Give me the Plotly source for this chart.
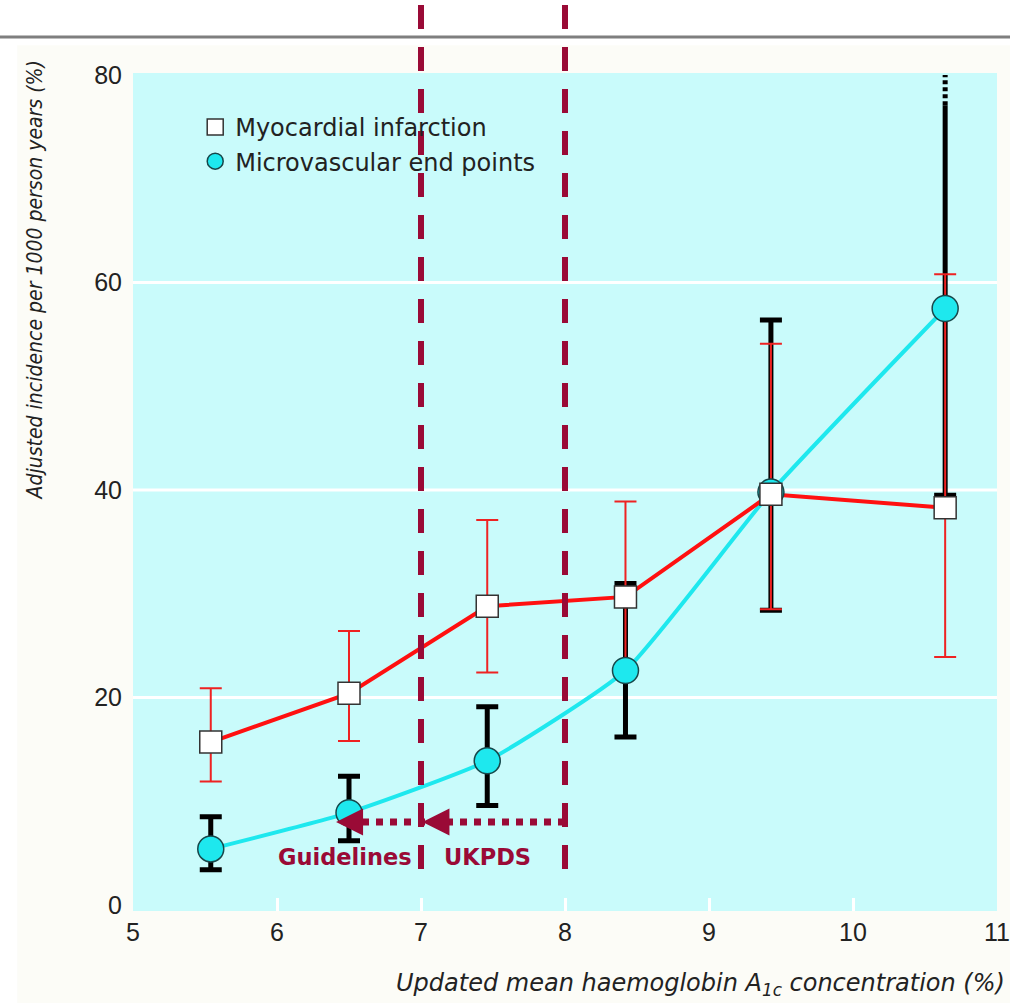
import plotly.graph_objects as go

# ---- data ----
hba1c = [5.54, 6.5, 7.46, 8.42, 9.43, 10.64]

mi_rate = [15.7, 20.4, 28.8, 29.7, 39.6, 38.3]
mi_upper = [20.9, 26.4, 37.1, 38.9, 54.1, 60.8]
mi_lower = [11.9, 15.8, 22.4, 22.4, 28.5, 23.9]

mv_rate = [5.4, 8.9, 13.9, 22.6, 39.8, 57.5]
mv_upper = [8.5, 12.4, 19.1, 31.0, 56.4, 77.1]
mv_lower = [3.4, 6.2, 9.6, 16.2, 28.4, 39.5]
mv_upper_extension = [77.1, 80.0]   # dotted continuation of last CI beyond the axis

x_ticks = [5, 6, 7, 8, 9, 10, 11]
y_ticks = [0, 20, 40, 60, 80]
grid_y = [20, 40, 60]

target_lines = [7, 8]          # guideline / UKPDS thresholds
arrow_y = 8.0
arrow_from = 8
arrow_tips = [7.01, 6.41]
label_texts = ["Guidelines", "UKPDS"]
label_x = [6.47, 7.46]
label_y = 4.6

DARK_RED = "#9a0a36"
FONT = "Liberation Sans, Arial, sans-serif"
WIDE = "DejaVu Sans, Liberation Sans, sans-serif"

n = len(hba1c)
last = n - 1

fig = go.Figure()

# black CI for microvascular (first 5 upper with caps, all lower)
fig.add_trace(go.Scatter(
    x=hba1c, y=mv_rate, mode="markers", marker=dict(size=1, opacity=0),
    error_y=dict(type="data", symmetric=False,
                 array=[(mv_upper[i] - mv_rate[i]) if i < last else 0 for i in range(n)],
                 arrayminus=[mv_rate[i] - mv_lower[i] for i in range(n)],
                 color="black", thickness=5, width=11),
    showlegend=False, hoverinfo="skip"))
# last upper CI without cap
fig.add_trace(go.Scatter(
    x=[hba1c[last]], y=[mv_rate[last]], mode="markers", marker=dict(size=1, opacity=0),
    error_y=dict(type="data", symmetric=False,
                 array=[mv_upper[last] - mv_rate[last]], arrayminus=[0],
                 color="black", thickness=5, width=0),
    showlegend=False, hoverinfo="skip"))
fig.add_trace(go.Scatter(
    x=[hba1c[last]] * len(mv_upper_extension), y=mv_upper_extension, mode="lines",
    line=dict(color="black", width=5, dash="4px,3px"),
    showlegend=False, hoverinfo="skip", cliponaxis=False))

# red CI for myocardial infarction
fig.add_trace(go.Scatter(
    x=hba1c, y=mi_rate, mode="markers", marker=dict(size=1, opacity=0),
    error_y=dict(type="data", symmetric=False,
                 array=[mi_upper[i] - mi_rate[i] for i in range(n)],
                 arrayminus=[mi_rate[i] - mi_lower[i] for i in range(n)],
                 color="#ee2222", thickness=2, width=11),
    showlegend=False, hoverinfo="skip"))

# lines
fig.add_trace(go.Scatter(
    x=hba1c, y=mv_rate, mode="lines",
    line=dict(color="#1ee8ee", width=4, shape="spline", smoothing=0.5),
    showlegend=False, hoverinfo="skip"))
fig.add_trace(go.Scatter(
    x=hba1c, y=mi_rate, mode="lines",
    line=dict(color="#ff1010", width=4),
    showlegend=False, hoverinfo="skip"))

# markers
fig.add_trace(go.Scatter(
    x=hba1c, y=mv_rate, mode="markers",
    marker=dict(symbol="circle", size=26, color="#1ee8ee", line=dict(color="#17474a", width=1.5)),
    showlegend=False, hoverinfo="skip"))
fig.add_trace(go.Scatter(
    x=hba1c, y=mi_rate, mode="markers",
    marker=dict(symbol="square", size=22, color="white", line=dict(color="#333333", width=1.5)),
    showlegend=False, hoverinfo="skip"))

# legend entries
fig.add_trace(go.Scatter(
    x=[None], y=[None], mode="markers", name="Myocardial infarction",
    marker=dict(symbol="square", size=16, color="white", line=dict(color="#333333", width=1.5))))
fig.add_trace(go.Scatter(
    x=[None], y=[None], mode="markers", name="Microvascular end points",
    marker=dict(symbol="circle", size=16, color="#1ee8ee", line=dict(color="#17474a", width=1.5))))

shapes = []
# white margins outside the off-white page area (top strip and left strip)
shapes.append(dict(type="rect", xref="paper", yref="paper", x0=-0.2, x1=1.1, y0=1.033, y1=1.2,
                   fillcolor="white", line=dict(width=0), layer="below"))
shapes.append(dict(type="rect", xref="paper", yref="paper", x0=-0.2, x1=-0.134, y0=-0.2, y1=1.2,
                   fillcolor="white", line=dict(width=0), layer="below"))
# top grey rule
shapes.append(dict(type="line", xref="paper", yref="paper", x0=-0.2, x1=1.1, y0=1.043, y1=1.043,
                   line=dict(color="#7f7f7f", width=3)))
# white gridlines
for g in grid_y:
    shapes.append(dict(type="line", xref="paper", yref="y", x0=0, x1=1, y0=g, y1=g,
                       line=dict(color="white", width=3), layer="below"))
# vertical dashed thresholds
for t in target_lines:
    shapes.append(dict(type="line", xref="x", yref="paper", x0=t, x1=t, y0=1.081, y1=0.049,
                       line=dict(color=DARK_RED, width=6, dash="24px,18px")))
# dotted arrow shaft
shapes.append(dict(type="line", xref="x", yref="y", x0=arrow_from, x1=arrow_tips[-1] + 0.12,
                   y0=arrow_y, y1=arrow_y, line=dict(color=DARK_RED, width=7, dash="dot")))

annotations = []
for tip in arrow_tips:
    annotations.append(dict(x=tip, y=arrow_y, xref="x", yref="y", text="", showarrow=True,
                            ax=26, ay=0, arrowhead=2, arrowsize=2.7, arrowwidth=2,
                            arrowcolor=DARK_RED))
for txt, lx in zip(label_texts, label_x):
    annotations.append(dict(x=lx, y=label_y, xref="x", yref="y", text="<b>%s</b>" % txt,
                            showarrow=False, font=dict(family=WIDE, size=22.5, color=DARK_RED)))
annotations.append(dict(x=-0.114, y=0.753, xref="paper", yref="paper", textangle=-90,
                        xanchor="center", yanchor="middle",
                        text="<i>Adjusted incidence per 1000 person years (%)</i>", showarrow=False,
                        font=dict(family="Liberation Sans Narrow, DejaVu Sans Condensed, sans-serif",
                                  size=21, color="#222222")))
annotations.append(dict(x=1.012, y=-0.088, xref="paper", yref="paper", xanchor="right", yanchor="middle",
                        text="<i>Updated mean haemoglobin A<sub>1c</sub> concentration (%)</i>",
                        showarrow=False, font=dict(family=WIDE, size=24, color="#222222")))

fig.update_layout(
    width=1010, height=1003,
    margin=dict(l=133, r=13, t=73, b=92),
    paper_bgcolor="#fcfcf7", plot_bgcolor="#c9fbfb",
    font=dict(family=FONT, size=25, color="#222222"),
    shapes=shapes, annotations=annotations,
    legend=dict(x=0.072, y=0.962, xanchor="left", yanchor="top", bgcolor="rgba(0,0,0,0)",
                font=dict(family=WIDE, size=24, color="#222222"), tracegroupgap=0, itemsizing="trace"),
    xaxis=dict(range=[5, 11], tickvals=x_ticks, showgrid=False, zeroline=False, showline=False,
               ticks="inside", ticklen=13, tickwidth=3, tickcolor="white", ticklabelstandoff=4,
               automargin=False),
    yaxis=dict(range=[-0.58, 80.2], tickvals=y_ticks, showgrid=False, zeroline=False, showline=False,
               ticks="", ticklabelstandoff=10, automargin=False),
    hovermode=False,
)

fig.write_html("out.html")
